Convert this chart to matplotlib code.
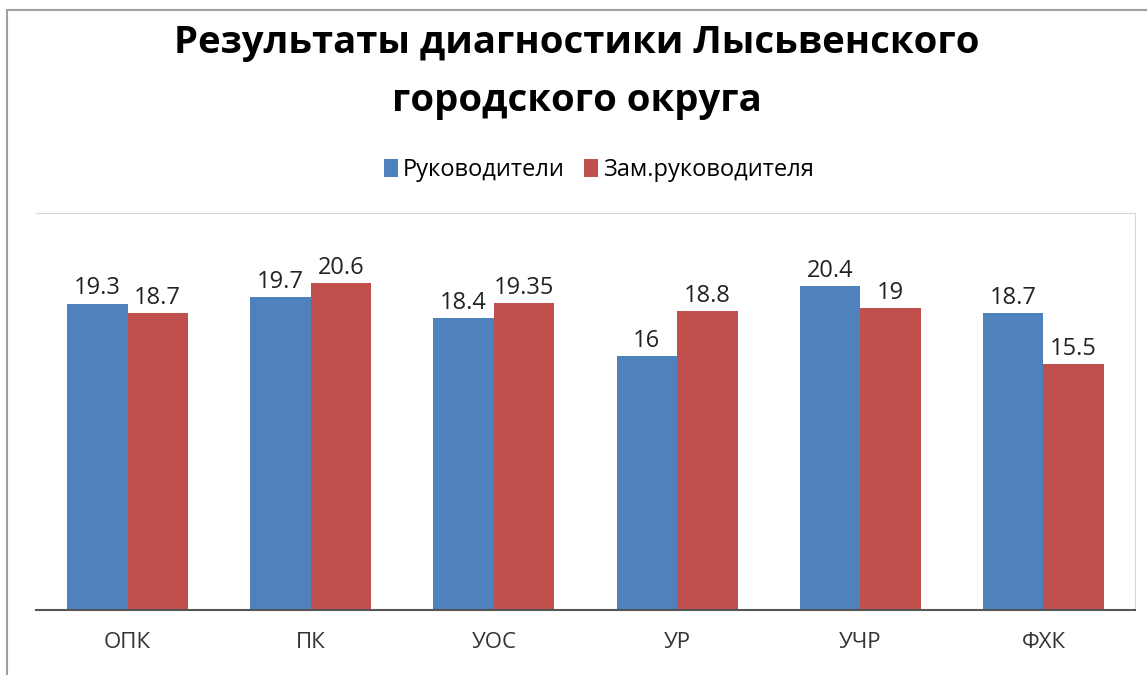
import numpy as np
import matplotlib.pyplot as plt
from matplotlib.patches import Rectangle

categories = ['ОПК', 'ПК', 'УОС', 'УР', 'УЧР', 'ФХК']
heads = [19.3, 19.7, 18.4, 16, 20.4, 18.7]
deputies = [18.7, 20.6, 19.35, 18.8, 19, 15.5]
head_labels = ['19.3', '19.7', '18.4', '16', '20.4', '18.7']
deputy_labels = ['18.7', '20.6', '19.35', '18.8', '19', '15.5']

W, H = 1147, 675
fig = plt.figure(figsize=(W / 100, H / 100), dpi=100)
plt.rcParams['font.family'] = ['Open Sans', 'DejaVu Sans']

# outer chart border
fig.patches.append(Rectangle((7 / W, -0.05), 1.1, 1 - 10 / H + 0.05,
                             transform=fig.transFigure, fill=False,
                             edgecolor='#a0a0a0', lw=1.5))

left, right, top, bottom = 36, 1135, 213, 610
ax = fig.add_axes([left / W, 1 - bottom / H, (right - left) / W, (bottom - top) / H])

x = np.arange(len(categories))
w = 0.33
b1 = ax.bar(x - w / 2, heads, w, color='#4F81BD', label='Руководители')
b2 = ax.bar(x + w / 2, deputies, w, color='#C0504D', label='Зам.руководителя')

for rect, lab in zip(b1, head_labels):
    ax.text(rect.get_x() + rect.get_width() / 2, rect.get_height() + 0.2, lab,
            ha='center', va='bottom', fontsize=17, color='#222222')
for rect, lab in zip(b2, deputy_labels):
    ax.text(rect.get_x() + rect.get_width() / 2, rect.get_height() + 0.2, lab,
            ha='center', va='bottom', fontsize=17, color='#222222')

ax.set_xlim(-0.5, len(categories) - 0.5)
ax.set_ylim(0, 25)
ax.set_yticks([])
ax.set_xticks(x)
ax.set_xticklabels(categories, fontsize=16, color='#333333')
ax.tick_params(axis='x', length=0, pad=16)
for s in ['left', 'right', 'top']:
    ax.spines[s].set_color('#d8d8d8')
ax.spines['left'].set_visible(False)
ax.spines['bottom'].set_color('#555555')
ax.spines['bottom'].set_linewidth(1.5)

fig.text(577 / W, 1 - 72 / H, 'Результаты диагностики Лысьвенского\nгородского округа',
         ha='center', va='center', fontsize=27.5, fontweight='bold', linespacing=1.7)

fig.legend(handles=[b1, b2], loc='center', bbox_to_anchor=(599 / W, 1 - 170 / H),
           ncol=2, frameon=False, fontsize=17, handlelength=0.6, handleheight=0.8,
           handletextpad=0.2, columnspacing=0.8)

fig.savefig('out.png', dpi=100)
